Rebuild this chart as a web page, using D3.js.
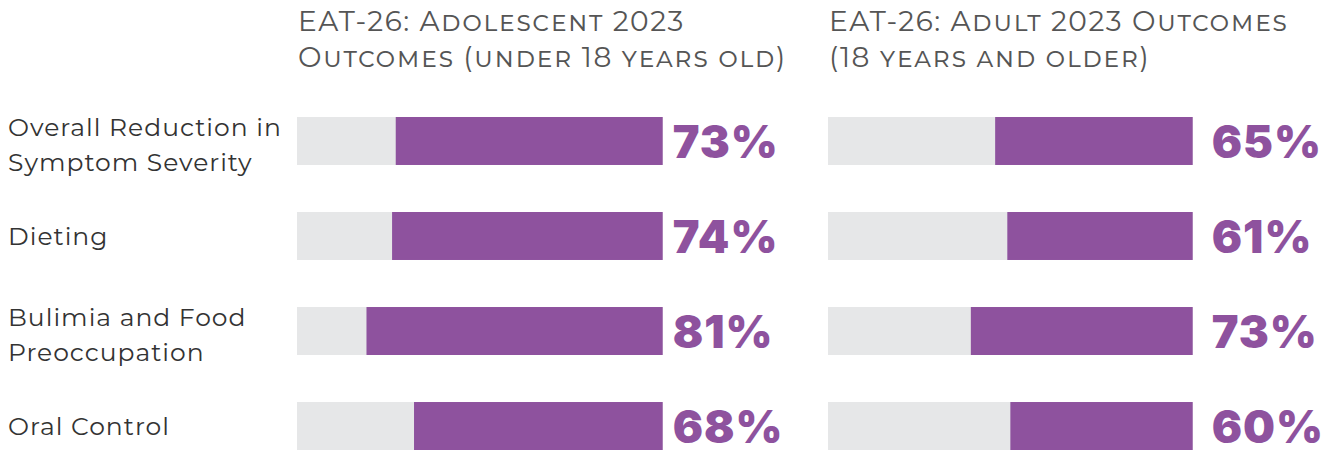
<!DOCTYPE html>
<html>
<head>
<meta charset="utf-8">
<script src="https://cdn.jsdelivr.net/npm/d3@7"></script>
<style>
  body { margin: 0; background: #fff; }
  svg { display: block; }
</style>
</head>
<body>
<svg></svg>
<script>
// Chart data
const categories = ["Overall Reduction in\nSymptom Severity", "Dieting", "Bulimia and Food\nPreoccupation", "Oral Control"];
const adolescentValues = [73, 74, 81, 68];
const adultValues = [65, 61, 73, 60];
const panelTitles = [
  ["EAT-26: Adolescent 2023", "Outcomes (under 18 years old)"],
  ["EAT-26: Adult 2023 Outcomes", "(18 years and older)"]
];

const width = 1333, height = 452;
const purple = "#8e529e", grey = "#e6e7e8";

const svg = d3.select("svg")
  .attr("width", width)
  .attr("height", height);

// rows
const y = d3.scaleBand()
  .domain(categories)
  .range([117, 450])
  .paddingInner(0.495)
  .paddingOuter(0);

// category labels
const labels = svg.append("g")
  .selectAll("text")
  .data(categories)
  .join("text")
    .attr("x", 8)
    .attr("y", d => y(d) + y.bandwidth() / 2)
    .attr("font-family", "Montserrat, 'Open Sans', sans-serif")
    .attr("font-size", 25)
    .attr("letter-spacing", 1)
    .attr("fill", "#333");
labels.each(function(d) {
  const lines = d.split("\n");
  const t = d3.select(this);
  lines.forEach((l, i) => {
    t.append("tspan")
      .attr("x", 8)
      .attr("dy", i === 0 ? (lines.length === 1 ? "0.37em" : "-0.2em") : "1.4em")
      .text(l);
  });
});

// panels
const panels = [
  { values: adolescentValues, title: panelTitles[0], x0: 297, x1: 662.7, max: 100, labelGap: 10 },
  { values: adultValues, title: panelTitles[1], x0: 828, x1: 1192.7, max: 120, labelGap: 19 }
];

panels.forEach(p => {
  const x = d3.scaleLinear()
    .domain([0, p.max])
    .range([0, p.x1 - p.x0]);

  const g = svg.append("g");

  // title
  const title = g.append("text")
    .attr("x", p.x0 + 1)
    .attr("font-family", "Montserrat, 'Open Sans', sans-serif")
    .attr("font-size", 28)
    .attr("font-variant", "small-caps")
    .attr("letter-spacing", 1.5)
    .attr("fill", "#555");
  p.title.forEach((l, i) => {
    title.append("tspan")
      .attr("x", p.x0 + 1)
      .attr("y", 31 + i * 36)
      .text(l);
  });

  // background bars
  g.selectAll(".bg")
    .data(categories)
    .join("rect")
      .attr("class", "bg")
      .attr("x", p.x0)
      .attr("y", d => y(d))
      .attr("width", p.x1 - p.x0)
      .attr("height", y.bandwidth())
      .attr("fill", grey);

  // value bars, anchored on the right
  g.selectAll(".bar")
    .data(p.values)
    .join("rect")
      .attr("class", "bar")
      .attr("x", d => p.x1 - x(d))
      .attr("y", (d, i) => y(categories[i]))
      .attr("width", d => x(d))
      .attr("height", y.bandwidth())
      .attr("fill", purple);

  // value labels
  g.selectAll(".val")
    .data(p.values)
    .join("text")
      .attr("class", "val")
      .attr("x", p.x1 + p.labelGap)
      .attr("y", (d, i) => y(categories[i]) + 41)
      .attr("font-family", "Inter, 'Open Sans', sans-serif")
      .attr("font-weight", 900)
      .attr("font-size", 45)
      .attr("letter-spacing", 1)
      .attr("fill", purple)
      .text(d => d + "%");
});
</script>
</body>
</html>
